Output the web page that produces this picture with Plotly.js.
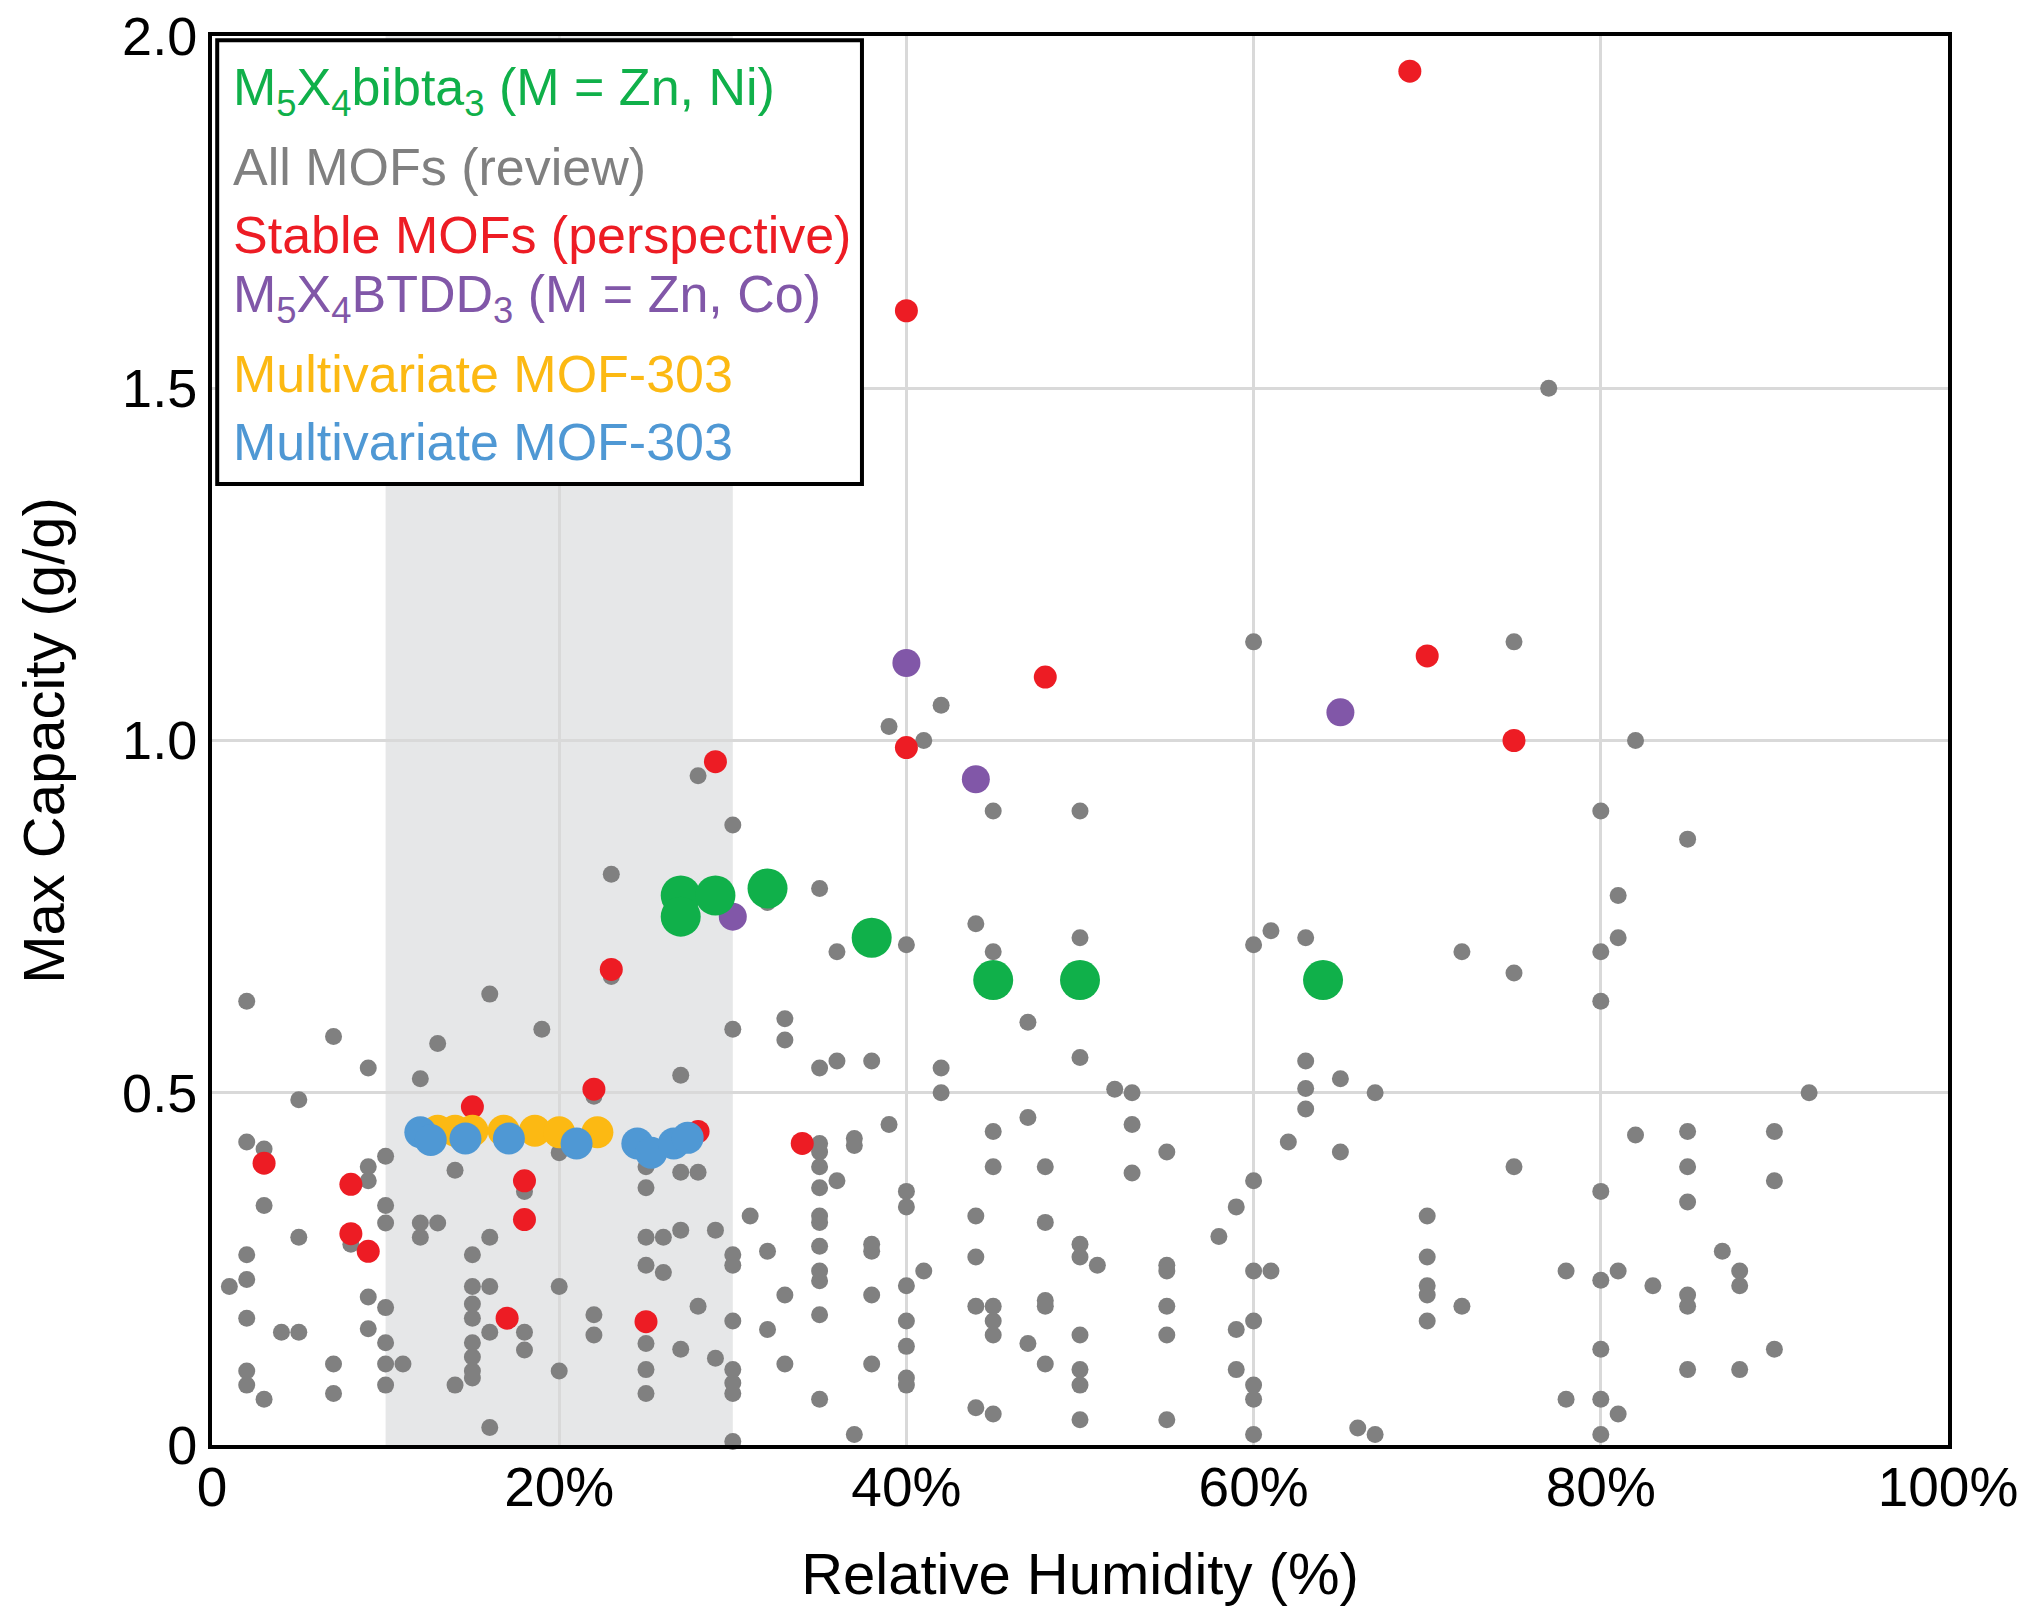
<!DOCTYPE html>
<html>
<head>
<meta charset="utf-8">
<script src="https://cdn.plot.ly/plotly-3.0.1.min.js"></script>
<style>html,body{margin:0;padding:0;background:#fff;}#chart{width:2036px;height:1607px;}</style>
</head>
<body>
<div id="chart"></div>
<script>
// ---- Data (Relative Humidity %, Max Capacity g/g) ----
var grayRH = [2,7,9,16,19,13,12,5,2,3,10,9,9,14,3,10,10,12,13,12,5,16,8,2,15,1,2,15,16,9,10,15,15,2,4,5,9,10,16,18,18,15,15,15,15,10,11,7,2,2,3,7,10,14,16,20,20,20,18,
  28,30,23,35,32,36,40,23,30,33,33,35,36,38,27,22,35,35,35,35,37,37,39,36,40,40,25,27,28,25,31,25,26,27,29,35,35,30,30,32,35,38,38,25,26,35,35,33,38,40,28,22,22,30,32,35,40,25,27,29,33,38,30,30,30,25,25,35,37,30,40,40,40,
  45,50,44,45,50,47,50,42,42,52,53,47,45,53,55,45,48,53,44,48,59,58,44,50,50,51,55,55,41,44,45,45,45,48,48,55,50,55,59,47,48,50,50,59,44,45,50,55,
  61,60,63,72,75,63,65,63,63,67,62,65,75,60,70,70,70,70,72,70,60,61,60,60,60,66,67,60,78,78,
  80,85,81,81,80,80,92,82,85,90,85,90,80,85,87,80,81,83,88,88,85,85,80,90,85,88,80,81,80,
  42,39,41,60,77,75,82];
var grayCap = [0.63,0.58,0.535,0.64,0.59,0.57,0.52,0.49,0.43,0.42,0.41,0.395,0.375,0.39,0.34,0.34,0.315,0.315,0.315,0.295,0.295,0.295,0.285,0.27,0.27,0.225,0.235,0.225,0.225,0.21,0.195,0.20,0.18,0.18,0.16,0.16,0.165,0.145,0.16,0.16,0.135,0.145,0.125,0.105,0.095,0.115,0.115,0.115,0.105,0.085,0.065,0.073,0.085,0.085,0.025,0.415,0.225,0.105,0.36,
  0.95,0.88,0.81,0.79,0.77,0.70,0.71,0.665,0.59,0.605,0.575,0.535,0.545,0.545,0.525,0.495,0.428,0.416,0.395,0.365,0.435,0.425,0.455,0.375,0.36,0.338,0.395,0.387,0.387,0.365,0.325,0.295,0.295,0.305,0.305,0.325,0.316,0.27,0.255,0.275,0.282,0.285,0.275,0.255,0.245,0.247,0.233,0.213,0.213,0.226,0.197,0.185,0.156,0.176,0.164,0.185,0.176,0.144,0.136,0.123,0.115,0.115,0.107,0.088,0.073,0.107,0.073,0.065,0.015,0.005,0.14,0.095,0.085,
  0.90,0.90,0.74,0.70,0.72,0.60,0.55,0.535,0.50,0.505,0.50,0.465,0.445,0.455,0.416,0.395,0.395,0.386,0.325,0.316,0.338,0.296,0.267,0.285,0.267,0.255,0.255,0.247,0.247,0.197,0.197,0.176,0.156,0.205,0.197,0.197,0.156,0.156,0.164,0.144,0.115,0.107,0.085,0.107,0.053,0.044,0.036,0.036,
  0.73,0.71,0.72,0.70,0.67,0.545,0.52,0.506,0.477,0.50,0.43,0.416,0.395,0.375,0.325,0.267,0.226,0.213,0.197,0.176,0.247,0.247,0.176,0.085,0.065,0.024,0.015,0.015,0.247,0.065,
  0.90,0.86,0.78,0.72,0.70,0.63,0.50,0.44,0.445,0.445,0.395,0.375,0.36,0.345,0.275,0.234,0.247,0.226,0.247,0.226,0.213,0.197,0.136,0.136,0.107,0.107,0.065,0.044,0.015,
  1.05,1.02,1.0,1.14,1.5,1.14,1.0];

var redRH  = [3,8,8,9,15,17,18,18,22,23,25,28,29,34,40,40,48,69,70,75];
var redCap = [0.40,0.37,0.30,0.275,0.48,0.18,0.375,0.32,0.505,0.675,0.175,0.445,0.97,0.428,1.61,0.99,1.09,1.95,1.12,1.0];

var purpleRH  = [30,40,44,65];
var purpleCap = [0.75,1.11,0.945,1.04];

var greenRH  = [27,27,29,32,38,45,50,64];
var greenCap = [0.78,0.75,0.78,0.79,0.72,0.66,0.66,0.66];

var yellowRH  = [13,14,15,16.8,18.6,20,22.2];
var yellowCap = [0.446,0.446,0.446,0.446,0.446,0.444,0.444];

var blueRH  = [12,12.6,14.6,17.1,21,24.5,25.3,26.6,27.4];
var blueCap = [0.444,0.433,0.435,0.435,0.428,0.428,0.415,0.428,0.436];

var seriesNames = [
  "M<sub>5</sub>X<sub>4</sub>bibta<sub>3</sub> (M = Zn, Ni)",
  "All MOFs (review)",
  "Stable MOFs (perspective)",
  "M<sub>5</sub>X<sub>4</sub>BTDD<sub>3</sub> (M = Zn, Co)",
  "Multivariate MOF-303",
  "Multivariate MOF-303"
];
var seriesColors = ["#10b04a","#808080","#ed1c24","#8157a8","#fcb913","#4f98d4"];

var xTickVals = [0,20,40,60,80,100];
var xTickText = ["0","20%","40%","60%","80%","100%"];
var yTickVals = [0,0.5,1.0,1.5,2.0];
var yTickText = ["0","0.5","1.0","1.5","2.0"];

// ---- Traces ----
function sc(x, y, color, size, name) {
  return {type:'scatter', mode:'markers', x:x, y:y, name:name, cliponaxis:false,
          marker:{color:color, size:size, line:{width:0}}, hoverinfo:'x+y'};
}
var traces = [
  sc(grayRH, grayCap, seriesColors[1], 17, seriesNames[1]),
  sc(redRH, redCap, seriesColors[2], 23, seriesNames[2]),
  sc(purpleRH, purpleCap, seriesColors[3], 28, seriesNames[3]),
  sc(greenRH, greenCap, seriesColors[0], 40, seriesNames[0]),
  sc(yellowRH, yellowCap, seriesColors[4], 32, seriesNames[4]),
  sc(blueRH, blueCap, seriesColors[5], 32, seriesNames[5])
];

// legend text lines (paper y positions)
var legendY = [0.961, 0.907, 0.859, 0.814, 0.760, 0.712];
var annotations = seriesNames.map(function(n, i){
  return {xref:'paper', yref:'paper', x:0.011, y:legendY[i], xanchor:'left', yanchor:'middle',
          text:n, showarrow:false, font:{family:'Liberation Sans, Arial, sans-serif', size:52, color:seriesColors[i]}};
});

var FONT = 'Liberation Sans, Arial, sans-serif';
var layout = {
  width:2036, height:1607,
  margin:{l:212, r:88, t:36, b:162},
  paper_bgcolor:'#ffffff', plot_bgcolor:'#ffffff',
  showlegend:false,
  font:{family:FONT, color:'#000'},
  xaxis:{range:[0,100], tickvals:xTickVals, ticktext:xTickText, ticks:'', ticklabelstandoff:-9,
         tickfont:{family:FONT, size:55, color:'#000'},
         showgrid:true, gridcolor:'#d9d9d9', gridwidth:3, zeroline:false,
         showline:true, linecolor:'#000', linewidth:4, mirror:true,
         title:{text:'Relative Humidity (%)', font:{family:FONT, size:58, color:'#000'}, standoff:37}},
  yaxis:{range:[0,2], tickvals:yTickVals, ticktext:yTickText, ticks:'',
         tickfont:{family:FONT, size:54, color:'#000'},
         showgrid:true, gridcolor:'#d9d9d9', gridwidth:3, zeroline:false,
         showline:true, linecolor:'#000', linewidth:4, mirror:true,
         title:{text:'Max Capacity (g/g)', font:{family:FONT, size:58, color:'#000'}, standoff:40}},
  shapes:[
    {type:'rect', xref:'x', yref:'paper', x0:10, x1:30, y0:0, y1:1, layer:'below',
     fillcolor:'#e6e7e8', line:{width:0}},
    {type:'rect', xref:'paper', yref:'paper', x0:0.003, x1:0.3744, y0:0.682, y1:0.997, layer:'above',
     fillcolor:'#ffffff', line:{color:'#000', width:4}}
  ],
  annotations:annotations
};

Plotly.newPlot('chart', traces, layout, {displayModeBar:false, staticPlot:true});
</script>
</body>
</html>
